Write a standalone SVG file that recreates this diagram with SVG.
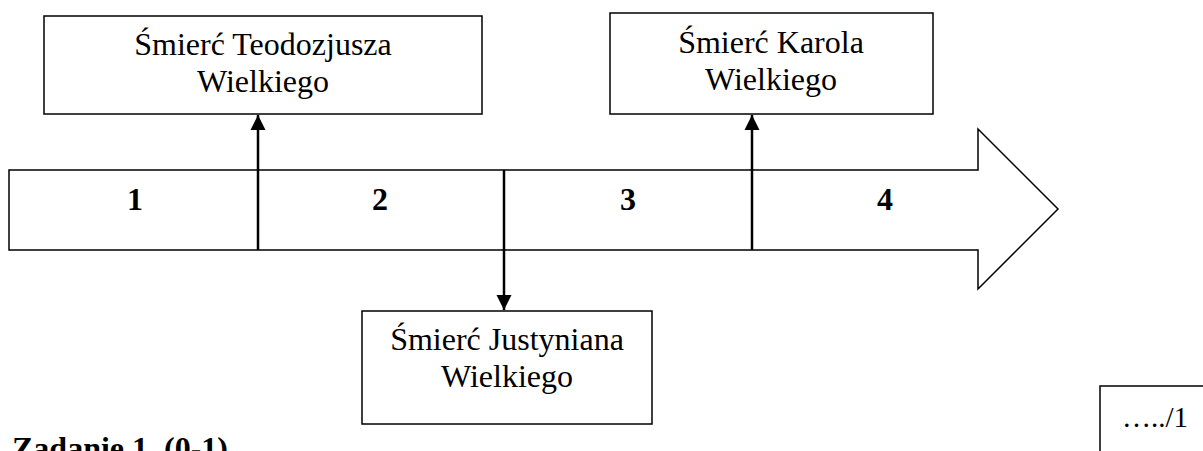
<svg xmlns="http://www.w3.org/2000/svg" width="1203" height="451" viewBox="0 0 1203 451">
<style>
.box{fill:#fff;stroke:#000;stroke-width:1.5}
text{font-family:'Liberation Serif','Times New Roman','DejaVu Serif',serif;fill:#000}
.t{font-size:32px;text-anchor:middle}
.b{font-size:32px;font-weight:bold;text-anchor:middle}
.c{stroke:#000;stroke-width:2.5;fill:none}
</style>
<defs>
<marker id="ah" viewBox="0 0 10 10" refX="10" refY="5" markerWidth="15" markerHeight="17" markerUnits="userSpaceOnUse" orient="auto">
<path d="M0,0 L10,5 L0,10 Z" fill="#000"/>
</marker>
</defs>
<rect width="1203" height="451" fill="#fff"/>
<g id="timeline">
<polygon class="box" points="9,170 978,170 978,129 1058,209 978,289 978,250 9,250"/>
<text class="b" x="135" y="210">1</text>
<text class="b" x="380" y="210">2</text>
<text class="b" x="628" y="210">3</text>
<text class="b" x="885" y="210">4</text>
</g>
<g id="teodozjusz">
<rect class="box" x="44" y="16" width="438" height="98"/>
<text class="t" x="263" y="55">Śmierć Teodozjusza</text>
<text class="t" x="263" y="92">Wielkiego</text>
</g>
<g id="karol">
<rect class="box" x="610" y="13" width="323" height="101"/>
<text class="t" x="771" y="53">Śmierć Karola</text>
<text class="t" x="771" y="90">Wielkiego</text>
</g>
<g id="justynian">
<rect class="box" x="362" y="311" width="290" height="113"/>
<text class="t" x="507" y="350">Śmierć Justyniana</text>
<text class="t" x="507" y="387">Wielkiego</text>
</g>
<g id="connectors">
<line class="c" x1="258" y1="250" x2="258" y2="115" marker-end="url(#ah)"/>
<line class="c" x1="504" y1="170" x2="504" y2="310" marker-end="url(#ah)"/>
<line class="c" x1="752" y1="250" x2="752" y2="115" marker-end="url(#ah)"/>
</g>
<g id="score">
<rect class="box" x="1100" y="386" width="120" height="80"/>
<text x="1122" y="427" font-size="29">…../1</text>
</g>
<text x="12" y="459" font-size="32" font-weight="bold">Zadanie 1. (0-1)</text>
</svg>
